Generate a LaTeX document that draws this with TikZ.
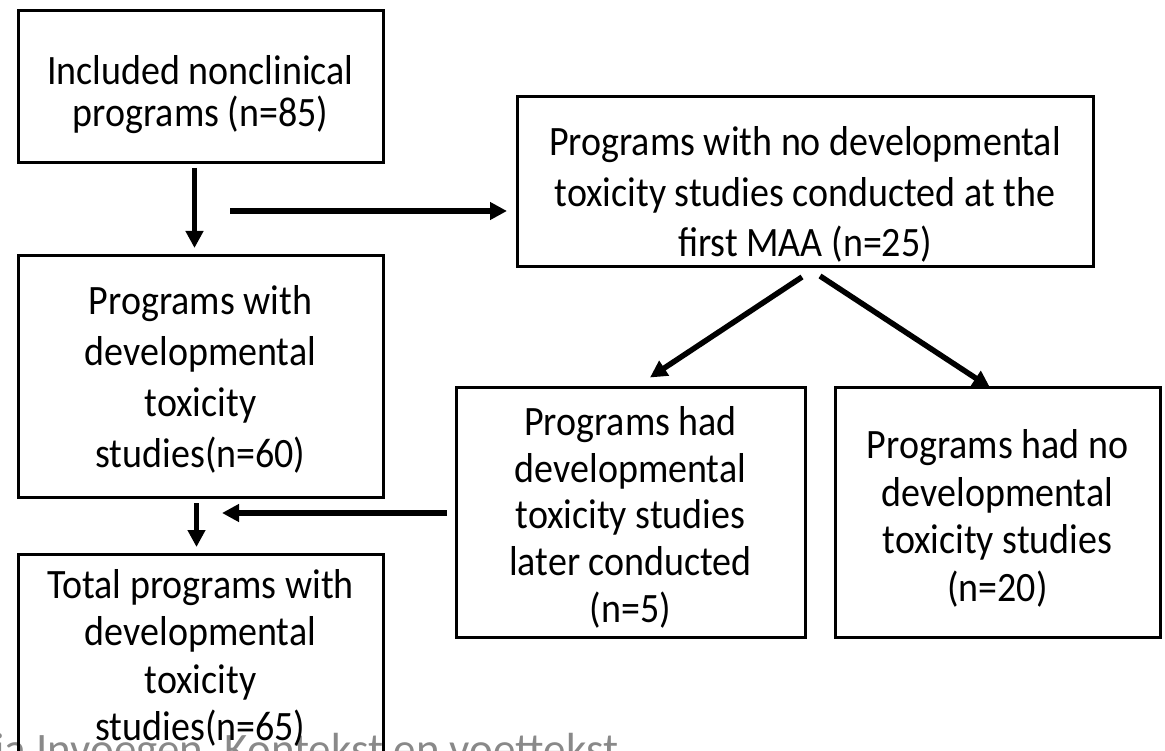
\documentclass[tikz,border=0pt]{standalone}
\usepackage{fontspec}
\usepackage{graphicx}
\setmainfont{Carlito}
\usetikzlibrary{arrows.meta}
\definecolor{footgrey}{HTML}{898989}
\newcommand{\vtxt}[2]{\fontsize{38}{#1}\selectfont\scalebox{1}[1.1]{\begin{tabular}{@{}c@{}}#2\end{tabular}}}
\tikzset{
  box/.style={draw=black, line width=3pt, inner sep=0pt, outer sep=0pt},
  txt/.style={inner sep=0pt, outer sep=0pt, align=center},
  arr/.style={line width=5.5pt, -{Triangle[length=17pt,width=17pt]}},
}
\begin{document}
\begin{tikzpicture}[x=1pt,y=-1pt]
\useasboundingbox (0,0) rectangle (1165,751);
\fill[white] (0,0) rectangle (1165,751);
\clip (0,0) rectangle (1165,751);
% footer text (partly cut off)
\node[text=footgrey, anchor=base west, inner sep=0pt, font=\fontsize{45}{50}\selectfont] (ft) at (-6,764) {ia Invoegen, Kontekst en voettekst};
% boxes
\node[box, minimum width=365pt, minimum height=152pt] (A) at (200.5,87) {};
\node[txt] (At) at ([yshift=-10pt]A.center) {\vtxt{37}{Included nonclinical\\programs (n=85)}};
\node[box, minimum width=365pt, minimum height=241pt] (B) at (200.5,376.5) {};
\node[txt] (Bt) at ([yshift=-4pt]B.center) {\vtxt{46.5}{Programs with\\developmental\\toxicity\\studies(n=60)}};
\node[box, minimum width=365pt, minimum height=206pt] (C) at (200.5,657) {};
\node[txt] (Ct) at ([yshift=-3pt]C.center) {\vtxt{43}{Total programs with\\developmental\\toxicity\\studies(n=65)}};
\node[box, minimum width=576pt, minimum height=170pt] (E) at (805,182) {};
\node[txt] (Et) at ([yshift=-14pt]E.center) {\vtxt{46}{Programs with no developmental\\toxicity studies conducted at the\\first MAA (n=25)}};
\node[box, minimum width=349pt, minimum height=250pt] (D) at (630.5,512.5) {};
\node[txt] (Dt) at ([yshift=-7pt]D.center) {\vtxt{42.5}{Programs had\\developmental\\toxicity studies\\later conducted\\(n=5)}};
\node[box, minimum width=325pt, minimum height=250pt] (F) at (997.5,512.5) {};
\node[txt] (Ft) at ([yshift=-8pt]F.center) {\vtxt{43.5}{Programs had no\\developmental\\toxicity studies\\(n=20)}};
% connectors
\coordinate (h1) at (230,211);
\coordinate (h2) at (222,513);
\draw[arr] ([shift={(-6,5)}]A.south) -- ([shift={(-6,-8)}]B.north);
\draw[arr] (h1) -- ([xshift=-10]E.west |- h1);
\draw[arr] ([shift={(-4,6)}]B.south) -- ([shift={(-4,-7)}]C.north);
\draw[arr] ([xshift=-9]D.west |- h2) -- (h2);
\draw[arr] ([shift={(-3,10)}]E.south) -- ([shift={(19.5,-10)}]D.north);
\draw[arr] ([shift={(15,9)}]E.south) -- ([shift={(-7.5,0)}]F.north);
\end{tikzpicture}
\end{document}
